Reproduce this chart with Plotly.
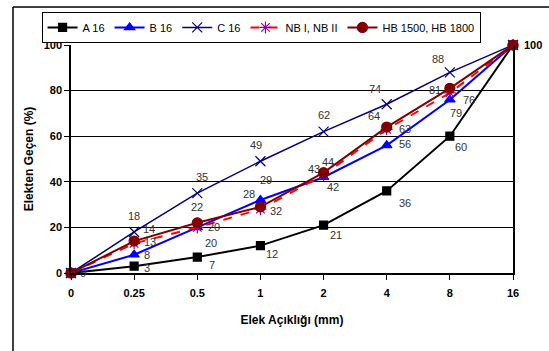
import plotly.graph_objects as go

categories = ["0", "0.25", "0.5", "1", "2", "4", "8", "16"]
a16 = [0, 3, 7, 12, 21, 36, 60, 100]
b16 = [0, 8, 20, 32, 42, 56, 76, 100]
c16 = [0, 18, 35, 49, 62, 74, 88, 100]
nb = [0, 13, 20, 28, 43, 63, 79, 100]
hb = [0, 14, 22, 29, 44, 64, 81, 100]

series = [
    ("A 16", a16, "black", "square", "black", 8, "solid"),
    ("B 16", b16, "#0000FF", "triangle-up", "#0000FF", 9, "solid"),
    ("C 16", c16, "#000080", "x-thin-open", "#000080", 10, "solid"),
    ("NB I, NB II", nb, "#FF0000", "asterisk-open", "#990099", 10, "dash"),
    ("HB 1500, HB 1800", hb, "#800000", "circle", "#800000", 10, "solid"),
]

fig = go.Figure()
for name, vals, lc, sym, mc, ms, dash in series:
    fig.add_trace(go.Scatter(
        x=categories, y=vals, name=name, mode="lines+markers",
        line=dict(color=lc, width=2 if name != "C 16" else 1.5, dash=dash),
        marker=dict(symbol=sym, size=ms, color=mc, line=dict(color=mc, width=1.2)),
        cliponaxis=False,
    ))

# data label offsets (pixels) per series, per point; None = no label
offsets = {
    "A 16": [None, (13, -2), (15, -8), (12, -8), (12, -10), (18, -12), (11, -11), None],
    "B 16": [None, (13, 0), (14, -16), (16, -11), (9, -10), (18, 1), (19, 0), None],
    "C 16": [None, (0, 16), (5, 16), (-4, 16), (0, 17), (-12, 15), (-12, 13), None],
    "NB I, NB II": [None, (16, 1), (17, 0), (-11, 15), (-10, 6), (18, 0), (6, -20), None],
    "HB 1500, HB 1800": [(12, 0), (15, 12), (0, 16), (6, 27), (4, 11), (-13, 11), (-15, -2), (20, 0)],
}
data_map = {s[0]: s[1] for s in series}
for name, offs in offsets.items():
    vals = data_map[name]
    for i, o in enumerate(offs):
        if o is None:
            continue
        bold = vals[i] == 100
        fig.add_annotation(
            x=i, y=vals[i], xref="x", yref="y",
            text=f"<b>{vals[i]}</b>" if bold else str(vals[i]),
            showarrow=False, xshift=o[0], yshift=o[1],
            font=dict(family="Liberation Sans, Arial", size=11,
                      color="black" if bold else "#333333"),
        )

fig.update_layout(
    width=549, height=351,
    margin=dict(l=71, r=36, t=45, b=78),
    paper_bgcolor="white", plot_bgcolor="white",
    font=dict(family="Liberation Sans, Arial", size=11, color="black"),
    showlegend=True,
    legend=dict(
        orientation="h", x=0.43, xanchor="center", y=1.145, yanchor="top",
        bordercolor="black", borderwidth=1, bgcolor="white",
        font=dict(size=11), itemwidth=30, tracegroupgap=0,
    ),
    xaxis=dict(
        type="category", range=[0, 7], showgrid=False,
        showline=True, linecolor="black", linewidth=1.5,
        ticks="outside", ticklen=5, tickcolor="black",
        tickfont=dict(size=11, family="Liberation Sans, Arial"),
        tickprefix="<b>", ticksuffix="</b>", ticklabelstandoff=4,
        title=dict(text="<b>Elek Açıklığı (mm)</b>", font=dict(size=12), standoff=18),
    ),
    yaxis=dict(
        range=[0, 100], dtick=20, showgrid=True, gridcolor="black", gridwidth=1,
        showline=True, linecolor="black", linewidth=1.5, mirror=True,
        ticks="outside", ticklen=5, tickcolor="black", zeroline=False,
        tickprefix="<b>", ticksuffix="</b>",
        title=dict(text="<b>Elekten Geçen (%)</b>", font=dict(size=12), standoff=7),
    ),
    shapes=[
        dict(type="line", xref="paper", yref="paper",
             x0=-58 / 442, x1=1.2, y0=1 + 38 / 228, y1=1 + 38 / 228,
             line=dict(color="#404040", width=2)),
        dict(type="line", xref="paper", yref="paper",
             x0=-58 / 442, x1=-58 / 442, y0=1 + 38 / 228, y1=-0.4,
             line=dict(color="black", width=1.5)),
    ],
)

fig.write_html("out.html", config={"displayModeBar": False},
               post_script="document.body.style.margin='0';document.body.style.overflow='hidden';")
